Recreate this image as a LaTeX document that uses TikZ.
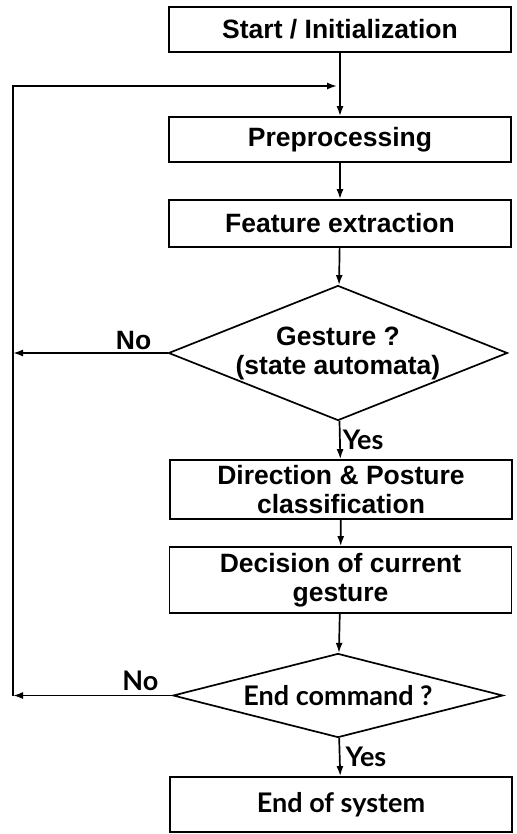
\documentclass[tikz,border=0pt]{standalone}
\usepackage{fontspec}
\setmainfont{Liberation Sans}
\newfontfamily\gillfont{Lato}
\usetikzlibrary{positioning,
        shapes.geometric,
        arrows.meta}

\begin{document}
\begin{tikzpicture}[x=1pt,y=1pt,
        font=\fontsize{26.5}{29}\selectfont\bfseries,
        gill/.style={font=\gillfont\fontsize{27}{29}\selectfont\bfseries},
        box/.style={rectangle,draw,line width=1.7pt,minimum width=342pt,align=center,inner sep=0pt},
        decision/.style={diamond,draw,line width=1.7pt,inner sep=0pt,align=center},
        arr/.style={-{Latex[length=10pt,width=7pt]},line width=1.7pt}]
            \useasboundingbox (0,0) rectangle (516,-834);

            \node [box,minimum height=45pt] (start) at (340,-29.5) {Start / Initialization};
            \node [box,minimum height=45pt] (prep) at (340,-139.5) {Preprocessing};
            \node [box,minimum height=47pt] (feat) at (340,-223.5) {Feature extraction};
            \node [decision,minimum width=339pt,minimum height=135pt,aspect=2.5] (gest) at (338,-353) {Gesture ?\\(state automata)};
            \node [box,minimum height=59pt] (dirpos) at (341,-489.5) {Direction \& Posture\\classification};
            \node [box,minimum height=66pt] (decis) at (340.5,-580) {Decision of current\\gesture};
            \node [decision,minimum width=330pt,minimum height=84pt,aspect=3.9,gill] (endcmd) at (338,-695.5) {End command ?};
            \node [box,minimum height=55pt,gill] (endsys) at (341,-804.5) {End of system};

            % loop back
            \coordinate (merge) at (338,-86);
            \coordinate (loop) at (13,-695.5);

            \draw [arr] (start) -- (prep);
            \draw [arr] (prep) -- (feat);
            \draw [arr] (feat) -- (gest);
            \draw [arr] (gest) -- node[right,gill,inner sep=2pt] {Yes} (dirpos);
            \draw [arr] (dirpos) -- (decis);
            \draw [arr] (decis) -- (endcmd);
            \draw [arr] (endcmd) -- node[right,gill,inner sep=5pt] {Yes} (endsys);
            \draw [arr] (gest.west) -- node[pos=0.22,above,inner sep=2pt] {No} (gest.west -| loop);
            \draw [arr] (endcmd.west) -- node[pos=0.2,above,inner sep=4pt,gill] {No} (loop);
            \draw [arr,shorten >=1pt] (loop) |- (merge);
        \end{tikzpicture}
\end{document}
